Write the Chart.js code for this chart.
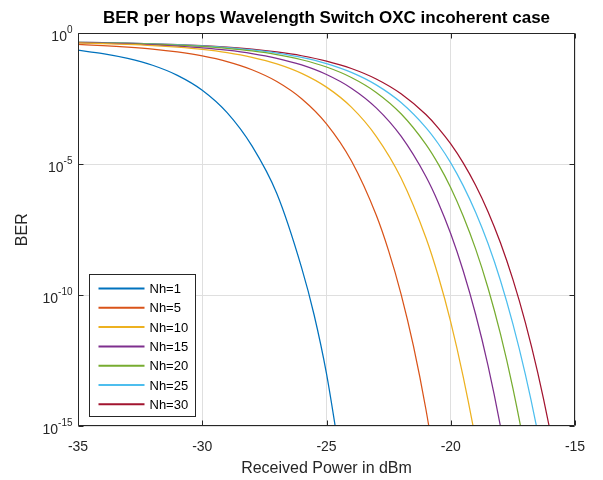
<!DOCTYPE html>
<html>
<head>
<meta charset="utf-8">
<script src="https://cdn.jsdelivr.net/npm/chart.js@4.4.1/dist/chart.umd.min.js"></script>
<style>
  html, body { margin: 0; padding: 0; background: #fff; }
  #wrap { width: 603px; height: 480px; }
</style>
</head>
<body>
<div id="wrap"><canvas id="ber"></canvas></div>
<script>
// values (received power in dBm, BER)
var seriesNames = ["Nh=1", "Nh=5", "Nh=10", "Nh=15", "Nh=20", "Nh=25", "Nh=30"];

var powerNh1 = [-35, -34, -33, -32, -31, -30, -29, -28, -27, -26, -25.5, -25, -24.5];
var berNh1 = [2.28e-1, 1.70e-1, 1.11e-1, 6.08e-2, 2.50e-2, 6.76e-3, 9.40e-4, 5.01e-5, 7.59e-7, 1.10e-9, 1.78e-11, 1.00e-13, 1.26e-16];

var powerNh5 = [-35, -34, -33, -32, -31, -30, -29, -28, -27, -26, -25, -24, -23, -22.5, -22, -21.5, -21, -20.5];
var berNh5 = [3.77e-1, 3.42e-1, 3.00e-1, 2.52e-1, 1.96e-1, 1.38e-1, 8.39e-2, 4.10e-2, 1.46e-2, 3.21e-3, 3.52e-4, 1.36e-5, 1.15e-7, 4.90e-9, 1.10e-10, 1.12e-12, 4.37e-15, 5.75e-18];

var powerNh10 = [-35, -34, -33, -32, -31, -30, -29, -28, -27, -26, -25, -24, -23, -22, -21, -20.5, -20, -19.5, -19, -18.5];
var berNh10 = [4.32e-1, 4.09e-1, 3.79e-1, 3.42e-1, 2.96e-1, 2.43e-1, 1.83e-1, 1.22e-1, 6.87e-2, 2.98e-2, 8.85e-3, 1.52e-3, 1.17e-4, 2.97e-6, 1.55e-8, 5.25e-10, 9.33e-12, 7.76e-14, 2.95e-16, 4.17e-19];

var powerNh15 = [-35, -34, -33, -32, -31, -30, -29, -28, -27, -26, -25, -24, -23, -22, -21, -20.5, -20, -19.5, -19, -18.5, -18, -17.5];
var berNh15 = [4.41e-1, 4.22e-1, 3.97e-1, 3.66e-1, 3.27e-1, 2.81e-1, 2.28e-1, 1.70e-1, 1.12e-1, 6.24e-2, 2.69e-2, 8.09e-3, 1.43e-3, 1.18e-4, 3.41e-6, 3.42e-7, 2.21e-8, 8.57e-10, 1.86e-11, 2.04e-13, 9.77e-16, 1.86e-18];

var powerNh20 = [-35, -34, -33, -32, -31, -30, -29, -28, -27, -26, -25, -24, -23, -22, -21, -20.5, -20, -19.5, -19, -18.5, -18, -17.5, -17, -16.5];
var berNh20 = [4.53e-1, 4.37e-1, 4.16e-1, 3.90e-1, 3.56e-1, 3.16e-1, 2.68e-1, 2.13e-1, 1.55e-1, 9.84e-2, 5.19e-2, 2.07e-2, 5.57e-3, 8.49e-4, 5.77e-5, 1.01e-5, 1.27e-6, 1.06e-7, 5.86e-9, 1.88e-10, 3.31e-12, 2.82e-14, 1.05e-16, 1.45e-19];

var powerNh25 = [-35, -34, -33, -32, -31, -30, -29, -28, -27, -26, -25, -24, -23, -22, -21, -20.5, -20, -19.5, -19, -18.5, -18, -17.5, -17, -16.5, -16];
var berNh25 = [4.57e-1, 4.43e-1, 4.24e-1, 4.00e-1, 3.69e-1, 3.32e-1, 2.87e-1, 2.35e-1, 1.78e-1, 1.21e-1, 7.00e-2, 3.23e-2, 1.08e-2, 2.28e-3, 2.52e-4, 6.08e-5, 1.13e-5, 1.53e-6, 1.47e-7, 9.33e-9, 3.63e-10, 7.94e-12, 9.55e-14, 5.62e-16, 1.41e-18];

var powerNh30 = [-35, -34, -33, -32, -31, -30, -29, -28, -27, -26, -25, -24, -23, -22, -21, -20.5, -20, -19.5, -19, -18.5, -18, -17.5, -17, -16.5, -16, -15.5];
var berNh30 = [4.56e-1, 4.43e-1, 4.25e-1, 4.02e-1, 3.74e-1, 3.40e-1, 2.98e-1, 2.49e-1, 1.95e-1, 1.40e-1, 8.77e-2, 4.57e-2, 1.82e-2, 4.95e-3, 7.93e-4, 2.42e-4, 5.96e-5, 1.13e-5, 1.58e-6, 1.55e-7, 1.00e-8, 3.98e-10, 9.12e-12, 1.10e-13, 6.31e-16, 1.55e-18];

var xTicks = [-35, -30, -25, -20, -15];
var yTicks = [1e-15, 1e-10, 1e-5, 1];
var yTickExponents = ["-15", "-10", "-5", "0"];

var powers = [powerNh1, powerNh5, powerNh10, powerNh15, powerNh20, powerNh25, powerNh30];
var bers = [berNh1, berNh5, berNh10, berNh15, berNh20, berNh25, berNh30];
var lineColors = ["#0072BD", "#D95319", "#EDB120", "#7E2F8E", "#77AC30", "#4DBEEE", "#A2142F"];

var FONT = "'Liberation Sans', Arial, Helvetica, sans-serif";
var INK = "#262626";

function toPoints(xs, ys) {
    var pts = [];
    for (var i = 0; i < xs.length; i++) pts.push({x: xs[i], y: ys[i]});
    return pts;
}

var datasets = seriesNames.map(function (name, i) {
    return {
        label: name,
        data: toPoints(powers[i], bers[i]),
        borderColor: lineColors[i],
        backgroundColor: lineColors[i],
        borderWidth: 1.25,
        pointRadius: 0,
        cubicInterpolationMode: "monotone",
        fill: false
    };
});

// box, inward ticks, 10^n labels and the legend, drawn the MATLAB way
var axesBox = {
    id: "axesBox",
    afterDatasetsDraw: function (chart) {
        var ctx = chart.ctx, a = chart.chartArea;
        var xs = chart.scales.x, ys = chart.scales.y;
        var L = Math.round(a.left) + 0.5, R = Math.round(a.right) - 0.5;
        var T = Math.round(a.top) + 0.5, B = Math.round(a.bottom) - 0.5;
        ctx.save();
        ctx.strokeStyle = INK;
        ctx.lineWidth = 1;
        ctx.beginPath();
        ctx.rect(L, T, R - L, B - T);
        xTicks.forEach(function (v) {
            var px = Math.round(xs.getPixelForValue(v)) + 0.5;
            ctx.moveTo(px, B); ctx.lineTo(px, B - 5);
            ctx.moveTo(px, T); ctx.lineTo(px, T + 5);
        });
        yTicks.forEach(function (v) {
            var py = Math.round(ys.getPixelForValue(v)) + 0.5;
            ctx.moveTo(L, py); ctx.lineTo(L + 5, py);
            ctx.moveTo(R, py); ctx.lineTo(R - 5, py);
        });
        ctx.stroke();

        // y tick labels as 10 with a raised exponent
        ctx.fillStyle = INK;
        ctx.textAlign = "right";
        ctx.textBaseline = "alphabetic";
        yTicks.forEach(function (v, i) {
            var py = ys.getPixelForValue(v);
            var xr = L - 6;
            ctx.font = "10px " + FONT;
            var ew = ctx.measureText(yTickExponents[i]).width;
            ctx.fillText(yTickExponents[i], xr, py);
            ctx.font = "14px " + FONT;
            ctx.fillText("10", xr - ew, py + 8);
        });

        // legend
        var lx = L + 11, lw = 106, rowH = 19.3;
        var lh = 142, ly = B - 9 - lh;
        ctx.fillStyle = "#fff";
        ctx.fillRect(lx, ly, lw, lh);
        ctx.strokeStyle = INK;
        ctx.strokeRect(lx, ly, lw, lh);
        ctx.font = "13px " + FONT;
        ctx.textBaseline = "middle";
        ctx.textAlign = "left";
        chart.data.datasets.forEach(function (ds, i) {
            var y = ly + 14 + i * rowH;
            ctx.strokeStyle = ds.borderColor;
            ctx.lineWidth = 2;
            ctx.beginPath();
            ctx.moveTo(lx + 9, y); ctx.lineTo(lx + 55, y);
            ctx.stroke();
            ctx.fillStyle = "#000";
            ctx.fillText(ds.label, lx + 60, y + 1);
        });
        ctx.restore();
    }
};

var canvasElement = document.getElementById("ber");
var config = {
    type: "line",
    data: { datasets: datasets },
    options: {
        responsive: true,
        maintainAspectRatio: false,
        animation: false,
        devicePixelRatio: 1,
        layout: { padding: { left: 0, right: 28, top: 0, bottom: 0 } },
        plugins: {
            legend: { display: false },
            tooltip: { enabled: false },
            title: {
                display: true,
                fullSize: false,
                text: "BER per hops Wavelength Switch OXC incoherent case",
                color: "#000",
                font: { family: FONT, size: 17, weight: "bold" },
                padding: { top: 8, bottom: 5 }
            }
        },
        scales: {
            x: {
                type: "linear",
                min: -35,
                max: -15,
                afterBuildTicks: function (s) { s.ticks = xTicks.map(function (v) { return {value: v}; }); },
                afterFit: function (s) { s.height = 54; },
                ticks: { color: INK, font: { family: FONT, size: 14 }, padding: 13, autoSkip: false, maxRotation: 0 },
                grid: { color: "#dfdfdf", lineWidth: 1, drawTicks: false },
                border: { display: false },
                title: { display: true, text: "Received Power in dBm", color: INK,
                         font: { family: FONT, size: 16 }, padding: { top: 2, bottom: 2 } }
            },
            y: {
                type: "logarithmic",
                min: 1e-15,
                max: 1,
                afterBuildTicks: function (s) { s.ticks = yTicks.map(function (v) { return {value: v}; }); },
                afterFit: function (s) { s.width = 78; },
                ticks: { display: false },
                grid: { color: "#dfdfdf", lineWidth: 1, drawTicks: false },
                border: { display: false },
                title: { display: true, text: "BER", color: INK,
                         font: { family: FONT, size: 16 }, padding: { top: 13, bottom: 0 } }
            }
        }
    },
    plugins: [axesBox]
};

var berChart = new Chart(canvasElement, config);
</script>
</body>
</html>
